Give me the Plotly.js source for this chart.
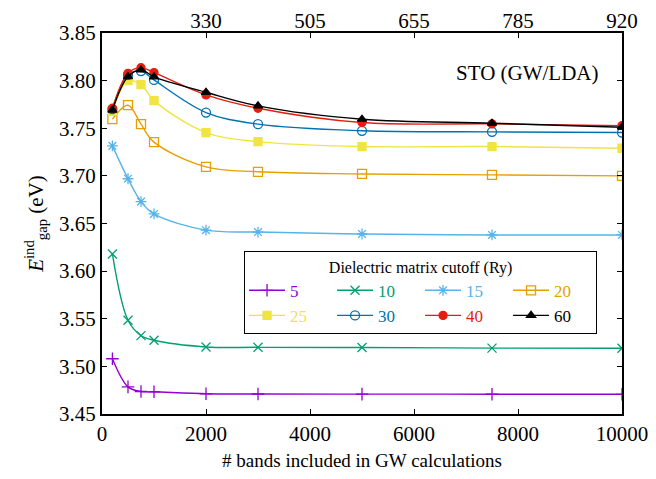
<!DOCTYPE html>
<html>
<head>
<meta charset="utf-8">
<script src="https://cdn.plot.ly/plotly-3.0.1.min.js"></script>
<style>html,body{margin:0;padding:0;background:#fff;}#chart{width:656px;height:479px;}</style>
</head>
<body>
<div id="chart"></div>
<script>
// ---- data ----
const bands = [200, 500, 750, 1000, 2000, 3000, 5000, 7500, 10000];
const cutoffs = ['5', '10', '15', '20', '25', '30', '40', '60'];
const gap5  = [3.508, 3.4785, 3.4736, 3.4733, 3.4712, 3.4710, 3.4709, 3.4708, 3.4707];
const gap10 = [3.618, 3.5484, 3.5323, 3.5274, 3.5204, 3.5200, 3.5198, 3.5192, 3.5190];
const gap15 = [3.7315, 3.697, 3.673, 3.660, 3.643, 3.641, 3.639, 3.638, 3.638];
const gap20 = [3.7595, 3.7742, 3.7543, 3.7354, 3.7095, 3.7043, 3.702, 3.701, 3.700];
const gap25 = [3.768, 3.800, 3.7958, 3.779, 3.7455, 3.736, 3.7308, 3.7308, 3.729];
const gap30 = [3.770, 3.806, 3.810, 3.8007, 3.7665, 3.7543, 3.7473, 3.7462, 3.7455];
const gap40 = [3.771, 3.8077, 3.8136, 3.8084, 3.785, 3.771, 3.756, 3.7546, 3.7528];
const gap60 = [3.769, 3.8042, 3.8112, 3.804, 3.7878, 3.7735, 3.7595, 3.7553, 3.7511];
const bottomTickVals = [0, 2000, 4000, 6000, 8000, 10000];
const bottomTickText = ['0', '2000', '4000', '6000', '8000', '10000'];
const topTickVals = [2000, 4000, 6000, 8000, 10000];
const topTickText = ['330', '505', '655', '785', '920'];
const yTicks = [3.45, 3.50, 3.55, 3.60, 3.65, 3.70, 3.75, 3.80, 3.85];

// ---- styles ----
const series = [gap5, gap10, gap15, gap20, gap25, gap30, gap40, gap60];
const colors = ['#9400d3', '#009e73', '#56b4e9', '#e69f00', '#f0e442', '#0072b2', '#e51e10', '#000000'];
const symbols = ['cross-thin-open', 'x-thin-open', 'asterisk-open', 'square-open', 'square', 'circle-open', 'circle', 'triangle-up'];
const sizes = [9, 9, 9, 9, 8, 9, 8, 8];

// legend columns: group k holds series k and k+4 (two rows of four)
const traces = series.map((ys, i) => ({
  x: bands, y: ys, type: 'scatter', mode: 'lines+markers',
  name: '<span style="color:' + colors[i] + '">' + cutoffs[i] + '</span>',
  legendgroup: 'col' + (i % 4),
  line: {color: colors[i], width: 1.4, shape: 'spline', smoothing: 1},
  marker: {symbol: symbols[i], size: sizes[i], color: colors[i],
           line: {color: colors[i], width: 1.3}},
  xaxis: 'x', yaxis: 'y'
}));
// invisible trace to carry the top axis
traces.push({x: [bands[0]], y: [gap5[0]], xaxis: 'x2', yaxis: 'y', mode: 'markers',
  marker: {opacity: 0}, showlegend: false, hoverinfo: 'skip'});

const font = '"Liberation Serif", "Times New Roman", serif';
const layout = {
  width: 656, height: 479,
  margin: {l: 102, r: 34, t: 33, b: 65},
  paper_bgcolor: '#fff', plot_bgcolor: '#fff',
  font: {family: font, color: '#000', size: 20},
  showlegend: true,
  xaxis: {range: [0, 10000], tickvals: bottomTickVals, ticktext: bottomTickText,
    ticks: 'inside', ticklen: 5, tickwidth: 1, tickcolor: '#000',
    showline: true, linewidth: 2, linecolor: '#000', mirror: true,
    showgrid: false, zeroline: false, tickfont: {size: 21, family: font},
    title: {text: '# bands included in GW calculations', font: {size: 19, family: font}, standoff: 8}},
  xaxis2: {overlaying: 'x', side: 'top', anchor: 'y', range: [0, 10000],
    tickvals: topTickVals, ticktext: topTickText,
    ticks: 'inside', ticklen: 5, tickwidth: 1, tickcolor: '#000',
    showline: false, showgrid: false, zeroline: false, tickfont: {size: 21, family: font}},
  yaxis: {range: [3.45, 3.85], tickvals: yTicks, tickformat: '.2f',
    ticks: 'inside', ticklen: 5, tickwidth: 1, tickcolor: '#000',
    showline: true, linewidth: 2, linecolor: '#000', mirror: 'ticks',
    showgrid: false, zeroline: false, tickfont: {size: 21, family: font},
    title: {text: '<i>E</i><sup>ind</sup><sub>gap</sub> (eV)', font: {size: 21, family: font}, standoff: 10}},
  legend: {orientation: 'h', traceorder: 'grouped', tracegroupgap: 0,
    x: 0.952, y: 0.428, xanchor: 'right', yanchor: 'top',
    bgcolor: '#fff', bordercolor: '#000', borderwidth: 1,
    entrywidth: 37, entrywidthmode: 'pixels', itemwidth: 36,
    font: {size: 17, family: font},
    title: {text: 'Dielectric matrix cutoff (Ry)', side: 'top center', font: {size: 16, family: font}}},
  annotations: [{text: 'STO (GW/LDA)', xref: 'paper', yref: 'paper', x: 0.96, y: 0.895,
    xanchor: 'right', yanchor: 'middle', showarrow: false, font: {size: 21, family: font}}]
};
Plotly.newPlot('chart', traces, layout, {displayModeBar: false, staticPlot: true});
</script>
</body>
</html>
